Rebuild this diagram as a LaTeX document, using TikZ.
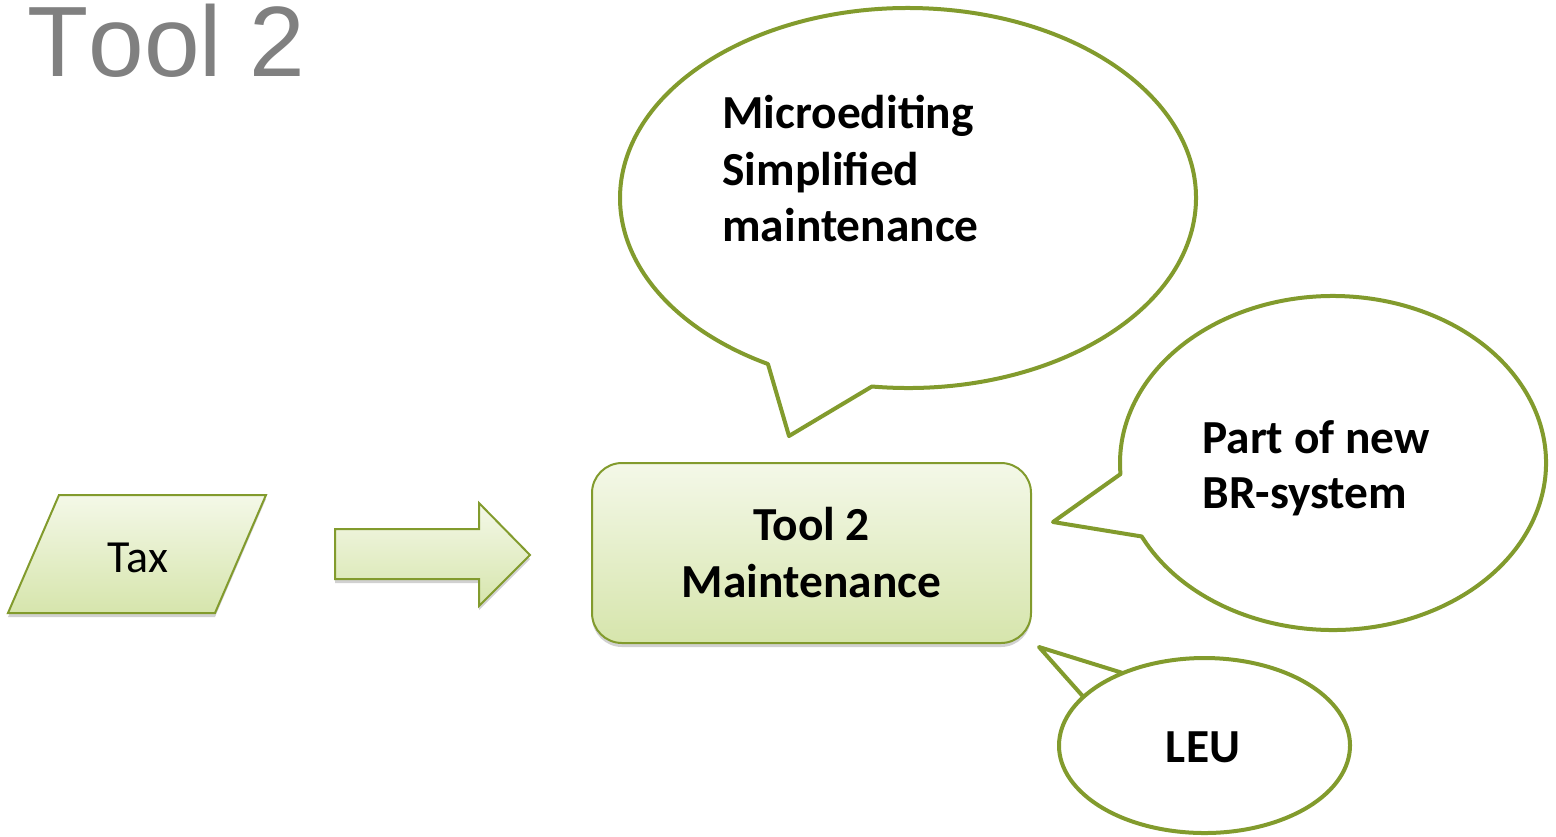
\documentclass[tikz,border=0pt]{standalone}
\usepackage{fontspec}
\newfontfamily\calibri{Carlito}
\newfontfamily\arialf{Liberation Sans}[Kerning=Off]
\usetikzlibrary{shadows}
\definecolor{oliveline}{RGB}{130,155,45}
\definecolor{gtop}{RGB}{244,248,232}
\definecolor{gbot}{RGB}{214,229,172}
\definecolor{titlegrey}{RGB}{128,128,128}
\begin{document}
\begin{tikzpicture}[x=0.5pt,y=0.5pt,
  shapefill/.style={draw=oliveline, line width=1pt, top color=gtop, bottom color=gbot,
    drop shadow={shadow xshift=0pt, shadow yshift=-2pt, opacity=0.18, fill=black}},
  callout/.style={draw=oliveline, line width=2pt, fill=white, line join=round},
  bigbold/.style={font=\calibri\bfseries\fontsize{23.7}{28.5}\selectfont, inner sep=0pt},
]
\useasboundingbox (0,0) rectangle (1556,-836);

% title
\node[anchor=base west, inner sep=0pt, text=titlegrey, font=\arialf\fontsize{50}{60}\selectfont] (title) at (27,-76) {Tool 2};

% parallelogram "Tax"
\coordinate (p1) at (59,-495);
\coordinate (p2) at (266,-495);
\coordinate (p3) at (215,-613);
\coordinate (p4) at (8,-613);
\draw[shapefill] (p1) -- (p2) -- (p3) -- (p4) -- cycle;
\node[font=\calibri\fontsize{23}{27}\selectfont, anchor=base, inner sep=0pt] (tax) at (138,-572) {Tax};

% block arrow
\coordinate (a1) at (335,-529);
\coordinate (a2) at (479,-529);
\coordinate (a3) at (479,-503);
\coordinate (a4) at (530,-555);
\coordinate (a5) at (479,-606);
\coordinate (a6) at (479,-579);
\coordinate (a7) at (335,-579);
\draw[shapefill] (a1) -- (a2) -- (a3) -- (a4) -- (a5) -- (a6) -- (a7) -- cycle;

% main box
\node[shapefill, rounded corners=15pt, minimum width=219.5pt, minimum height=90pt,
  align=center, bigbold] (box) at (811.5,-553) {Tool 2\\Maintenance};

% callout 1
\coordinate (c1) at (908,-198);
\coordinate (t1) at (789,-436);
\draw[callout] (c1) ++(262.8:144pt and 95pt)
  arc[start angle=262.8, end angle=600.9, x radius=144pt, y radius=95pt] -- (t1) -- cycle;
\node[bigbold, anchor=base west] (m1) at (722,-128) {Microediting};
\node[bigbold, anchor=base west] (m2) at (722,-185) {Simplified};
\node[bigbold, anchor=base west] (m3) at (722,-241) {maintenance};

% callout 2
\coordinate (c2) at (1333,-463);
\coordinate (t2) at (1053,-522);
\draw[callout] (c2) ++(206.1:106.5pt and 83.5pt)
  arc[start angle=206.1, end angle=543.8, x radius=106.5pt, y radius=83.5pt] -- (t2) -- cycle;
\node[bigbold, anchor=base west] (b1) at (1202,-453) {Part of new};
\node[bigbold, anchor=base west] (b2) at (1202,-508) {BR-system};

% callout 3
\coordinate (c3) at (1204.5,-745.5);
\coordinate (t3) at (1039,-647);
\draw[callout] (c3) ++(124.1:72.75pt and 43.75pt)
  arc[start angle=124.1, end angle=506.3, x radius=72.75pt, y radius=43.75pt] -- (t3) -- cycle;
\node[bigbold, anchor=base] (leu) at (1203,-762) {LEU};
\end{tikzpicture}
\end{document}
